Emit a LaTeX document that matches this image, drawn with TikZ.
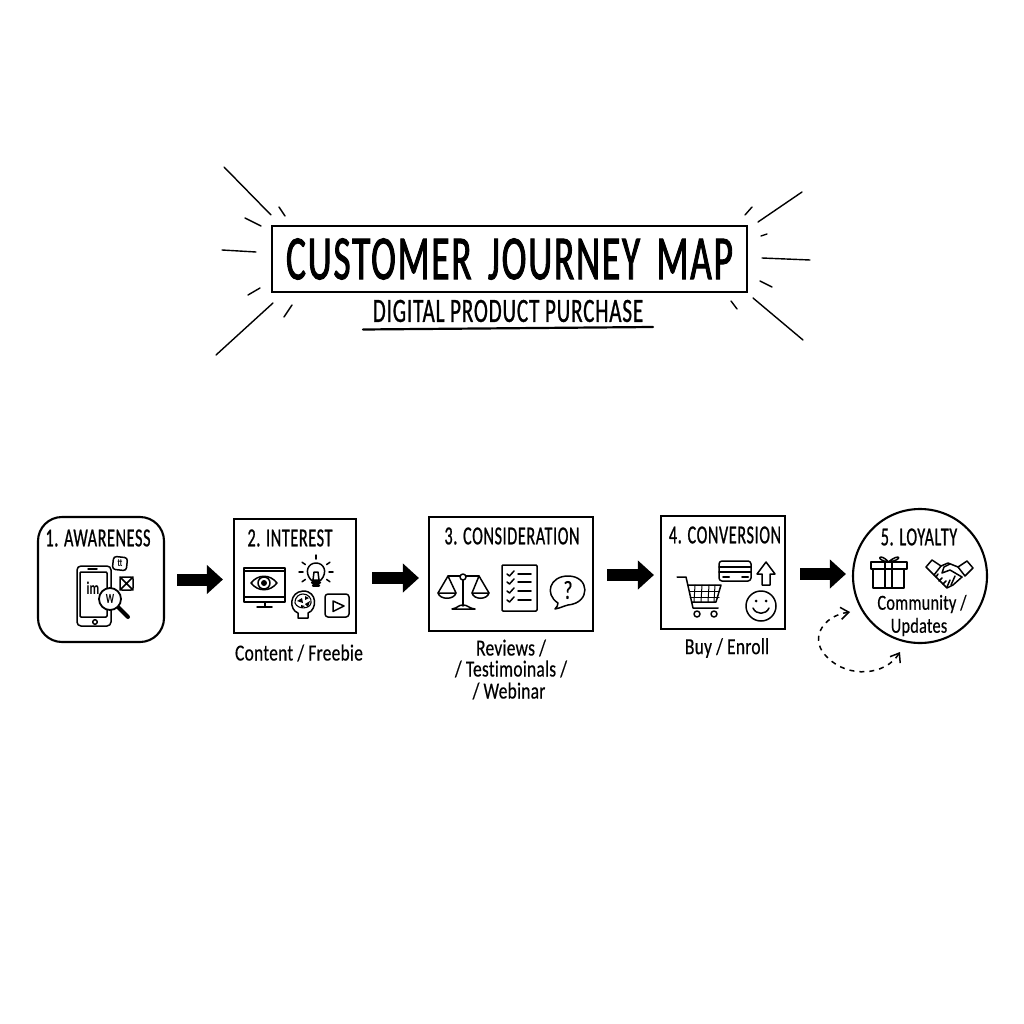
\documentclass[tikz,border=0pt]{standalone}
\usepackage{fontspec}
\setmainfont[FakeStretch=0.66]{Carlito}
\newfontfamily\capfont[FakeStretch=0.76, FakeBold=0.4, LetterSpace=1, Ligatures=CommonOff]{Carlito}
\newfontfamily\stagefont[FakeStretch=0.62, FakeBold=0.8, LetterSpace=2.5]{Carlito}
\newfontfamily\titlefont[FakeStretch=0.59, FakeBold=1.4, LetterSpace=3, WordSpace=1.6]{Carlito}
\usepackage{xcolor}
\usepackage{tikz}
\usetikzlibrary{positioning, shapes, calc, arrows.meta}

\begin{document}
\begin{tikzpicture}[x=1pt, y=-1pt,
    ray/.style={line width=1.4pt, line cap=round},
    stagebox/.style={draw, line width=2.1pt, inner sep=0pt},
    stagetitle/.style={inner sep=0pt, font=\stagefont\fontsize{26}{26}\selectfont},
    caption/.style={inner sep=0pt, font=\capfont\fontsize{23}{23}\selectfont},
    incircle/.style={caption, font=\capfont\fontsize{21.5}{21.5}\selectfont},
    bigarrow/.style={line width=12pt, -{Triangle[length=16pt, width=28pt]}},
    icon/.style={line width=1.5pt, line cap=round, line join=round},
    tinylabel/.style={inner sep=0pt, font=\fontsize{10}{10}\bfseries\selectfont}]
  \useasboundingbox (0,0) rectangle (1024,1024);

  % Title
  \node[draw, line width=2.4pt, minimum width=475pt, minimum height=66pt, inner sep=0pt,
        font=\titlefont\fontsize{63}{63}\selectfont] (maintitle) at (509.5,259) {CUSTOMER JOURNEY MAP};
  \node[inner sep=0pt, font=\stagefont\fontsize{34}{34}\selectfont] (subtitle) at (508,311) {DIGITAL PRODUCT PURCHASE};
  \coordinate (underleft) at (363,329.5);
  \coordinate (underright) at (653,327);
  \draw[line width=2.2pt, line cap=round] (underleft) -- (underright);

  % Rays round the title
  \foreach \xa/\ya/\xb/\yb in {224/167/271/215, 279/207/285/216, 245/218/261/226, 222/250/256/252,
      248/295/260/288, 216/355/273/303, 284/317/292/305, 802/192/758/222, 745/215/752/207,
      761/236/767/234, 762/258/810/260, 760/281/772/287, 753/298/803/340, 731/301/737/309} {
    \draw[ray] (\xa,\ya) -- (\xb,\yb);
  }

  % Stages
  \node[stagebox, rounded corners=24pt, minimum width=126pt, minimum height=125pt] (awareness) at (101,579.5) {};
  \node[stagebox, minimum width=122pt, minimum height=114pt] (interest) at (295,576) {};
  \node[stagebox, minimum width=164pt, minimum height=114pt] (consideration) at (511,574) {};
  \node[stagebox, minimum width=124pt, minimum height=113pt] (conversion) at (723,572.5) {};
  \node[stagebox, circle, minimum size=134pt] (loyalty) at (920,576) {};

  \node[stagetitle] (awarenesstitle) at (98,538) {1. AWARENESS};
  \node[stagetitle] (interesttitle) at (290,538) {2. INTEREST};
  \node[stagetitle] (considerationtitle) at (512,536) {3. CONSIDERATION};
  \node[stagetitle] (conversiontitle) at (725,535) {4. CONVERSION};
  \node[stagetitle] (loyaltytitle) at (919,537) {5. LOYALTY};

  % Arrows
  \foreach \from/\to/\dy/\sa/\sb in {awareness/interest/0/12/10, interest/consideration/-2/15/9,
      consideration/conversion/-1/13/6, conversion/loyalty/-1.5/14/6} {
    \draw[bigarrow, shorten <=\sa pt, shorten >=\sb pt] ([yshift=\dy pt]\from.east) -- ([yshift=\dy pt]\from.east -| \to.west);
  }

  % Captions
  \node[caption] (contentcap) at (299,653) {Content / Freebie};
  \node[caption] (reviewscap) at (511,648) {Reviews /};
  \node[caption] (testimoinalscap) at (511,669) {/ Testimoinals /};
  \node[caption] (webinarcap) at (509,691) {/ Webinar};
  \node[caption] (buycap) at (727,648) {Buy / Enroll};
  \node[incircle] (communitycap) at (922,604) {Community /};
  \node[incircle] (updatescap) at (919,627) {Updates};

  % Loop back under the circle
  \coordinate (loopstart) at (850,612);
  \coordinate (loopend) at (900,652);
  \draw[line width=1.5pt, dashed, dash pattern=on 5pt off 5pt, {Straight Barb[length=8pt, width=12pt]}-{Straight Barb[length=8pt, width=12pt]}]
    (loopstart) .. controls (822,616) and (808,640) .. (828,658) .. controls (848,678) and (885,676) .. (loopend);

  % Phone icon
  \draw[icon, rounded corners=4pt] (77,566) rectangle (111,626);
  \draw[icon, rounded corners=1pt] (80,572) rectangle (107,617);
  \draw[icon] (88,569) -- (97,569);
  \draw[icon] (95,622) circle (2.3);
  \node[tinylabel, font=\fontsize{18}{18}\bfseries\selectfont] (phonetext) at (93,588) {im};
  \draw[icon, rounded corners=3pt, rotate around={-6:(120,563)}] (113,557) rectangle (127,570);
  \node[tinylabel, font=\fontsize{11}{11}\bfseries\selectfont] (appmark) at (120,563) {tt};
  \draw[icon, rounded corners=2pt] (120,577) rectangle (133,590);
  \draw[icon] (120,577) -- (133,590) (133,577) -- (120,590);
  \draw[line width=4pt, line cap=round] (118,607) -- (128,617);
  \draw[icon, fill=white, line width=1.8pt] (110,599) circle (11);
  \node[tinylabel, font=\fontsize{14}{14}\bfseries\selectfont] (lenstext) at (110,599) {W};

  % Monitor, bulb, brain, play
  \draw[icon] (244,568) rectangle (285,602);
  \draw[icon] (244,571) -- (285,571);
  \draw[icon] (244,597) -- (285,597);
  \draw[icon] (265,602) -- (265,607) (257,607) -- (272,607);
  \draw[icon] (251,583) .. controls (258,574) and (270,574) .. (277,583) .. controls (270,592) and (258,592) .. (251,583);
  \draw[icon] (264,583) circle (6);
  \fill (264,583) circle (3);
  \begin{scope}[shift={(316,572)}]
    \draw[icon] (-5,8) .. controls (-12,0) and (-8,-9) .. (0,-9) .. controls (8,-9) and (12,0) .. (5,8) -- (-5,8);
    \draw[icon] (-3,8) -- (-2,0) (3,8) -- (2,0) (-2,0) -- (2,0);
    \draw[icon, line width=2.4pt] (-4,10.5) -- (4,10.5) (-3,13.5) -- (3,13.5);
    \foreach \angle in {0, 35, 90, 145, 180, 215, 325} {
      \draw[icon] (\angle:13pt) -- (\angle:17pt);
    }
  \end{scope}
  \draw[icon] (298,618) -- (298,613) .. controls (289,610) and (289,592) .. (303,591) .. controls (318,591) and (317,610) .. (308,613) -- (308,618) -- cycle;
  \draw[icon, line width=1.1pt] (295,603) .. controls (295,596) and (300,594) .. (303,594) .. controls (308,594) and (312,598) .. (311,603) .. controls (310,609) and (298,610) .. (295,603);
  \fill (297,601) -- (302,598) -- (303,603) -- cycle (305,604) -- (310,601) -- (308,607) -- cycle (301,605) -- (305,606) -- (301,608) -- cycle (305,596) -- (309,598) -- (305,600) -- cycle;
  \draw[icon, rounded corners=3pt] (325,594) rectangle (349,617);
  \draw[icon] (333,601) -- (333,611.5) -- (344,606) -- cycle;

  % Scales
  \draw[icon] (463,577) -- (463,606) (448,576) -- (479,576);
  \draw[icon, fill=white] (463,577) circle (3);
  \draw[icon] (452,609) .. controls (458,608) and (458,605) .. (463,605) .. controls (468,605) and (468,608) .. (475,609) -- cycle;
  \draw[icon] (438,593) -- (448,576) -- (456,593);
  \draw[icon] (438,593) -- (456,593) .. controls (454,600) and (440,600) .. (438,593);
  \draw[icon] (472,593) -- (479,576) -- (489,593);
  \draw[icon] (472,593) -- (489,593) .. controls (487,600) and (474,600) .. (472,593);

  % Checklist
  \draw[icon, rounded corners=1pt] (502,565) rectangle (537,611);
  \foreach \rowy in {574, 582, 591, 600} {
    \draw[icon] (507,\rowy) -- (509.5,\rowy+2) -- (514,\rowy-3);
    \draw[icon] (518,\rowy) -- (531,\rowy);
  }

  % Speech bubble
  \draw[icon] (558,603) .. controls (544,594) and (550,576) .. (568,576) .. controls (590,576) and (591,603) .. (568,605) .. controls (564,606) and (560,608) .. (555,609) .. controls (557,607) and (558,605) .. (558,603);
  \node[inner sep=0pt, font=\capfont\fontsize{26}{26}\selectfont] (questionmark) at (568,590) {?};

  % Cart
  \draw[icon] (677,577) -- (686,577) -- (693,608) -- (718,608);
  \draw[icon] (688,585) -- (721,585) -- (716,602) -- (692,602);
  \foreach \cellx in {695, 702, 709, 715} {
    \draw[icon, line width=1pt] (\cellx,585) -- (\cellx-1,602);
  }
  \foreach \celly in {591, 597} {
    \draw[icon, line width=1pt] (690,\celly) -- (719,\celly);
  }
  \draw[icon] (697,614) circle (3) (714,614) circle (3);

  % Card, up arrow, smiley
  \draw[icon, rounded corners=3pt] (719,561) rectangle (751,581);
  \draw[icon] (719,567) -- (751,567) (719,572) -- (751,572);
  \draw[icon, line width=2pt] (723,577) -- (729,577) (742,577) -- (748,577);
  \draw[icon] (766,562) -- (775,574) -- (770,574) -- (770,585) -- (762,585) -- (762,574) -- (757,574) -- cycle;
  \draw[icon] (761,606) circle (15);
  \fill (756,601) circle (1.5) (766,601) circle (1.5);
  \draw[icon] (753,608) .. controls (756,615) and (766,615) .. (769,608);

  % Gift
  \draw[icon] (873,569) rectangle (904,588);
  \draw[icon] (871,562) rectangle (907,569);
  \draw[icon] (885,562) -- (885,588) (892,562) -- (892,588);
  \draw[icon] (888.5,562) .. controls (880,552) and (874,560) .. (888.5,562) .. controls (900,552) and (904,560) .. (888.5,562);

  % Handshake
  \draw[icon] (926,567) -- (932,560) -- (941,566) -- (934,575) -- cycle;
  \draw[icon] (967,561) -- (973,568) -- (965,576) -- (958,567) -- cycle;
  \draw[icon] (941,566) -- (948,563) -- (958,567);
  \draw[icon] (962,577) -- (950,570) -- (942,573) -- (944,567) -- (950,564);
  \draw[icon] (934,575) -- (947,588) -- (953,585) -- (962,577);
  \draw[icon] (938,574) -- (936,577) (942,578) -- (939,581) (946,581) -- (943,584) (950,580) -- (947,587) (955,576) -- (951,585);
\end{tikzpicture}
\end{document}
